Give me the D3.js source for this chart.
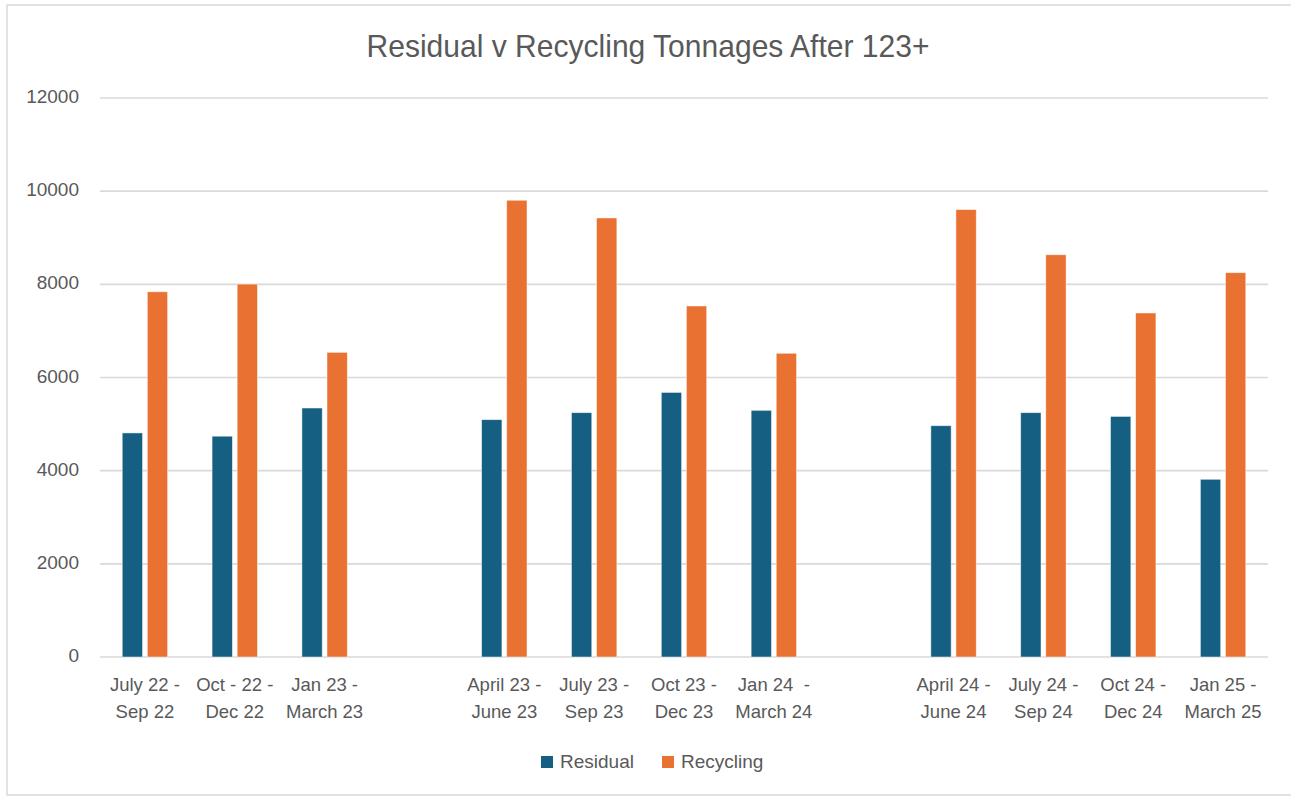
<!DOCTYPE html>
<html>
<head>
<meta charset="utf-8">
<script src="https://cdn.jsdelivr.net/npm/d3@7"></script>
<style>
  body { margin: 0; background: #fff; }
  svg { display: block; }
  text { white-space: pre; }
</style>
</head>
<body>
<svg width="1291" height="797"></svg>
<script>
// blank entries are the empty slots between the years
const categories = ["July 22 -\nSep 22", "Oct - 22 -\nDec 22", "Jan 23 -\nMarch 23", "",
  "April 23 -\nJune 23", "July 23 -\nSep 23", "Oct 23 -\nDec 23", "Jan 24  -\nMarch 24", "",
  "April 24 -\nJune 24", "July 24 -\nSep 24", "Oct 24 -\nDec 24", "Jan 25 -\nMarch 25"];
const residual = [4810, 4740, 5345, null, 5095, 5245, 5680, 5295, null, 4965, 5245, 5165, 3815];
const recycling = [7840, 8005, 6540, null, 9805, 9425, 7535, 6520, null, 9605, 8635, 7385, 8250];
const seriesNames = ["Residual", "Recycling"];
const colors = ["#156082", "#E97132"];
const yTicks = [0, 2000, 4000, 6000, 8000, 10000, 12000];

const svg = d3.select("svg"),
  width = +svg.attr("width"),
  height = +svg.attr("height");

const margin = { left: 100, right: 23, top: 98, bottom: 140 };

// chart area border
svg.append("rect").attr("x", 7).attr("y", 5).attr("width", width).attr("height", 790)
  .style("fill", "#fff").style("stroke", "#d9d9d9").style("stroke-width", 1.5)

const x = d3.scaleBand()
  .domain(d3.range(categories.length))
  .range([margin.left, width - margin.right])
  .padding(0);

const xs = d3.scaleBand()
  .domain([0, 1])
  .range([0, x.bandwidth()])
  .paddingInner(0.19)
  .paddingOuter(0.886);

const y = d3.scaleLinear()
  .domain([0, 12000])
  .range([height - margin.bottom, margin.top]);

// gridlines
svg.append("g")
  .selectAll("line")
  .data(yTicks)
  .join("line")
  .attr("x1", margin.left)
  .attr("x2", width - margin.right)
  .attr("y1", d => y(d))
  .attr("y2", d => y(d))
  .style("stroke", "#d9d9d9")
  .style("stroke-width", 1.6);

svg.append("g")
  .selectAll("text")
  .data(yTicks)
  .join("text")
  .attr("x", 79)
  .attr("y", d => y(d))
  .attr("text-anchor", "end")
  .attr("dominant-baseline", "middle")
  .style("font-family", "'Liberation Sans', Arial, sans-serif")
  .style("font-size", "19px")
  .style("fill", "#595959")
  .text(d => d);

// bars
const rows = categories.map((c, i) => ({ i, vals: [residual[i], recycling[i]] }));

const groups = svg.append("g")
  .selectAll("g")
  .data(rows)
  .join("g")
  .attr("transform", d => `translate(${x(d.i)},0)`);

groups.selectAll("rect")
  .data(d => d.vals.map((v, k) => ({ k, v })).filter(e => e.v != null))
  .join("rect")
  .attr("x", d => xs(d.k))
  .attr("width", xs.bandwidth())
  .attr("y", d => y(d.v))
  .attr("height", d => y(0) - y(d.v))
  .style("fill", d => colors[d.k])
  .style("stroke", "rgba(255,255,255,0.6)")
  .style("stroke-width", 0.8);

// category labels
const labels = svg.append("g")
  .selectAll("text")
  .data(categories)
  .join("text")
  .attr("x", (d, i) => x(i) + x.bandwidth() / 2)
  .attr("y", 691)
  .attr("text-anchor", "middle")
  .style("font-family", "'Liberation Sans', Arial, sans-serif")
  .style("font-size", "18.5px")
  .style("fill", "#595959");

labels.selectAll("tspan")
  .data(d => d ? d.split("\n") : [])
  .join("tspan")
  .attr("x", function () { return this.parentNode.getAttribute("x") })
  .attr("dy", (d, j) => j === 0 ? 0 : 27)
  .text(d => d);

// title, squeezed to the narrow face of the original
svg.append("text")
  .attr("x", 648)
  .attr("y", 57)
  .attr("text-anchor", "middle")
  .attr("textLength", 563)
  .attr("lengthAdjust", "spacingAndGlyphs")
  .style("font-family", "'Liberation Sans', Arial, sans-serif")
  .style("font-size", "32px")
  .style("fill", "#595959")
  .text("Residual v Recycling Tonnages After 123+");

// legend
const legendX = [541, 662];
seriesNames.forEach((name, k) => {
  svg.append("rect").attr("x", legendX[k]).attr("y", 756).attr("width", 12).attr("height", 12)
    .style("fill", colors[k]);
  svg.append("text").attr("x", legendX[k] + 19).attr("y", 768).text(name)
    .style("font-family", "'Liberation Sans', Arial, sans-serif")
    .style("font-size", "19px")
    .style("fill", "#595959");
});
</script>
</body>
</html>
